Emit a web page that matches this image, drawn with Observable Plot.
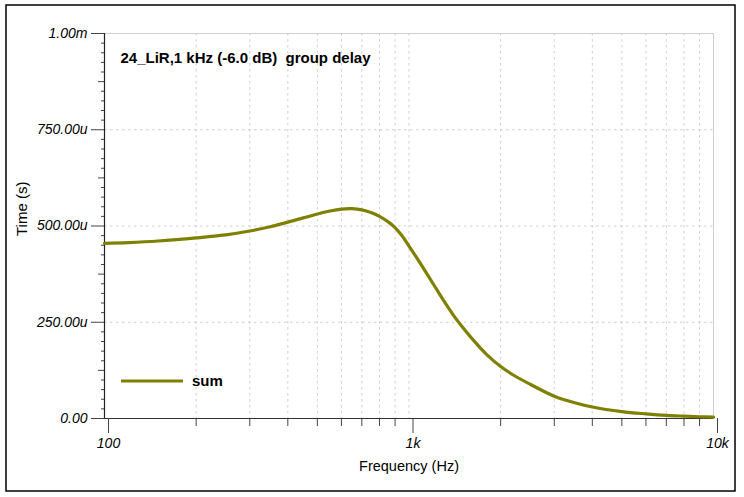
<!DOCTYPE html>
<html>
<head>
<meta charset="utf-8">
<script src="https://cdn.jsdelivr.net/npm/d3@7"></script>
<script src="https://cdn.jsdelivr.net/npm/@observablehq/plot@0.6"></script>
<style>
  html, body { margin: 0; padding: 0; background: #fff; }
  #chart { width: 744px; height: 497px; }
</style>
</head>
<body>
<div id="chart"></div>
<script>
// Frequency (Hz) and group delay (µs)
const freq  = [100, 120, 150, 200, 250, 300, 350, 400, 450, 500, 550, 600, 650, 700, 750, 800, 850, 900, 950, 1000, 1100, 1200, 1300, 1400, 1500, 1600, 1800, 2000, 2200, 2500, 3000, 3500, 4000, 5000, 6000, 7000, 8000, 9000, 10000];
const delay = [455, 457, 461, 469, 477, 487, 498, 510, 521, 531, 539, 544, 545, 542, 535, 525, 512, 496, 474, 448, 398, 350, 306, 268, 237, 210, 166, 135, 113, 89, 58, 41, 30, 18, 12, 8, 6, 4.5, 3.5];

const xMajor = [100, 1000, 10000];
const xMajorLabels = ["100", "1k", "10k"];
const xMinor = [200, 300, 400, 500, 600, 700, 800, 900, 2000, 3000, 4000, 5000, 6000, 7000, 8000, 9000];
const yMajor = [0, 250, 500, 750, 1000];
const yMajorLabels = ["0.00", "250.00u", "500.00u", "750.00u", "1.00m"];
const yMid = [125, 375, 625, 875];
const yMinor = d3.range(25, 1000, 25).filter(v => v % 125 !== 0);

const titleText = "24_LiR,1 kHz (-6.0 dB)  group delay";
const xLabel = "Frequency (Hz)";
const yLabel = "Time (s)";
const seriesName = "sum";

const olive = "#808000";
const tickColor = "#444";
const gridColor = "#cfcfcf";
const font = "'Liberation Sans', Arial, sans-serif";

const data = freq.map((f, i) => ({f, d: delay[i]}));

const chart = Plot.plot({
  width: 744,
  height: 497,
  marginLeft: 104,
  marginRight: 31,
  marginTop: 33,
  marginBottom: 79,
  style: {fontFamily: font, background: "#fff", color: "#000"},
  x: {type: "log", domain: [100, 10000]},
  y: {domain: [0, 1000]},
  marks: [
    Plot.ruleX([...xMinor, 1000], {stroke: gridColor, strokeDasharray: "2.5,3.5"}),
    Plot.ruleY([250, 500, 750], {stroke: gridColor, strokeDasharray: "2.5,3.5"}),
    Plot.ruleX([10000], {stroke: gridColor}),
    Plot.ruleY([1000], {stroke: gridColor}),
    Plot.axisX({ticks: xMinor, tickSize: 8, tickFormat: () => "", stroke: tickColor, label: null}),
    Plot.axisX({ticks: xMajor, tickSize: 15, tickPadding: 5, tickFormat: (d) => xMajorLabels[xMajor.indexOf(d)],
      fontSize: 14, fontStyle: "italic", stroke: tickColor, fill: "#000", dx: 4, label: null}),
    Plot.axisY({ticks: yMinor, tickSize: 3, tickFormat: () => "", stroke: tickColor, label: null}),
    Plot.axisY({ticks: yMid, tickSize: 6, tickFormat: () => "", stroke: tickColor, label: null}),
    Plot.axisY({ticks: yMajor, tickSize: 13, tickPadding: 4, tickFormat: (d) => yMajorLabels[yMajor.indexOf(d)],
      fontSize: 14, fontStyle: "italic", stroke: tickColor, fill: "#000", label: null}),
    Plot.ruleY([0], {stroke: "#333", strokeWidth: 1.2}),
    Plot.ruleX([100], {stroke: "#222", strokeWidth: 1.2}),
    Plot.line(data, {x: "f", y: "d", stroke: olive, strokeWidth: 3.2, curve: "catmull-rom"}),
    Plot.text([titleText], {frameAnchor: "top-left", dx: 16, dy: 19, fontSize: 15, fontWeight: "bold", textAnchor: "start", fill: "#000"}),
    Plot.text([xLabel], {frameAnchor: "bottom", dy: 52, fontSize: 14.5, fill: "#000"}),
    Plot.text([yLabel], {frameAnchor: "left", dx: -82, dy: 10, rotate: -90, fontSize: 15, fill: "#000"})
  ]
});

const svg = d3.select(chart);
// legend
const lg = svg.append("g").attr("text-anchor", "start");
lg.append("line").attr("x1", 121).attr("x2", 183).attr("y1", 381).attr("y2", 381)
  .attr("stroke", olive).attr("stroke-width", 3.2);
lg.append("text").attr("x", 192).attr("y", 381).attr("dy", "0.35em").attr("text-anchor", "start")
  .attr("font-size", 15).attr("font-weight", "bold").attr("font-family", font).text(seriesName);
// outer border
svg.append("rect").attr("x", 6).attr("y", 5).attr("width", 729).attr("height", 486)
  .attr("fill", "none").attr("stroke", "#000").attr("stroke-width", 1.5);

document.getElementById("chart").appendChild(chart);
</script>
</body>
</html>
